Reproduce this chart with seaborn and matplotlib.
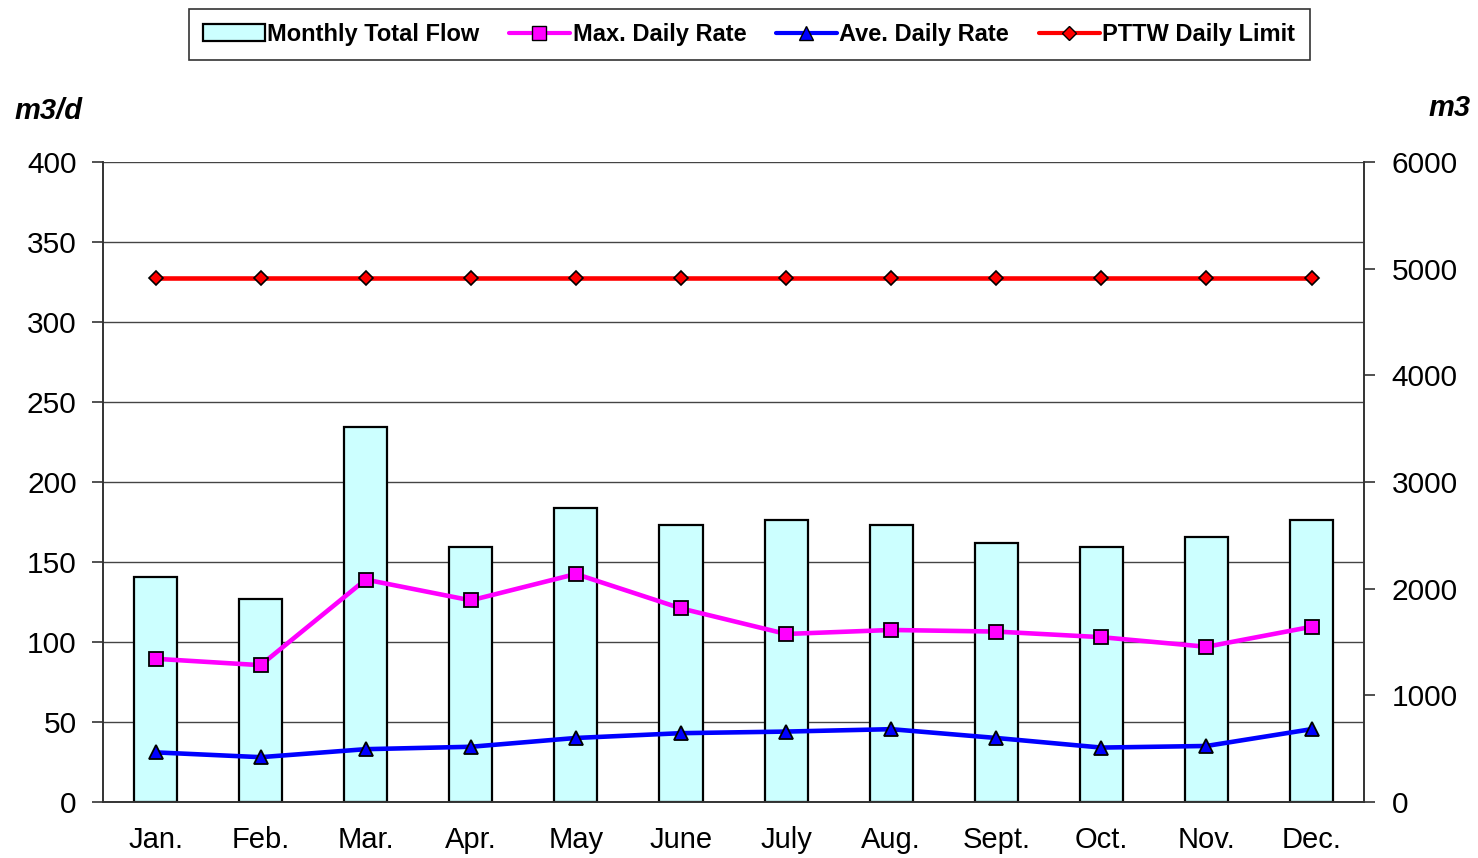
import numpy as np
import matplotlib
matplotlib.use("Agg")
import matplotlib.pyplot as plt
import seaborn as sns
from matplotlib.patches import Patch
from matplotlib.lines import Line2D

months = ["Jan.", "Feb.", "Mar.", "Apr.", "May", "June", "July", "Aug.", "Sept.", "Oct.", "Nov.", "Dec."]
total_flow = [2110, 1900, 3515, 2390, 2755, 2600, 2645, 2600, 2430, 2390, 2485, 2645]   # m3, right axis
max_daily = [89.5, 85.5, 139, 126, 142.5, 121, 105, 107.5, 106.5, 103, 97, 109.5]      # m3/d
ave_daily = [31, 28, 33, 34.5, 40, 43, 44, 45.5, 40, 34, 35, 45.5]
pttw_limit = [327.5] * 12

sns.set_style("white")
plt.rcParams["font.family"] = ["Liberation Sans", "DejaVu Sans"]
plt.rcParams["text.color"] = "black"
plt.rcParams["xtick.color"] = "black"
plt.rcParams["ytick.color"] = "black"

fig = plt.figure(figsize=(14.78, 8.58), dpi=100)
ax = fig.add_axes([0.0697, 0.0653, 0.8532, 0.7459])
ax2 = ax.twinx()
ax.set_zorder(ax2.get_zorder() + 1)
ax.patch.set_visible(False)

# bars on the m3 axis
sns.barplot(x=months, y=total_flow, ax=ax2, color="#CCFFFF", saturation=1,
            width=0.41, edgecolor="black", linewidth=1.6)

x = np.arange(len(months))
sns.lineplot(x=x, y=max_daily, ax=ax, color="#FF00FF", linewidth=3.3, marker="s",
             markersize=10, markerfacecolor="#FF00FF", markeredgecolor="black",
             markeredgewidth=1.3, legend=False)
sns.lineplot(x=x, y=ave_daily, ax=ax, color="#0000FF", linewidth=3.3, marker="^",
             markersize=10, markerfacecolor="#0000FF", markeredgecolor="black",
             markeredgewidth=1.3, legend=False)
sns.lineplot(x=x, y=pttw_limit, ax=ax, color="#FF0000", linewidth=3.3, marker="D",
             markersize=7, markerfacecolor="#FF0000", markeredgecolor="black",
             markeredgewidth=1.2, legend=False)

ax.set_ylim(0, 400)
ax2.set_ylim(0, 6000)
ax.set_xlim(-0.5, 11.5)
ax2.set_xlim(-0.5, 11.5)
ax.set_ylabel("")
ax2.set_ylabel("")

# grid at every 50 m3/d, drawn behind the bars
ax2.set_yticks(np.arange(0, 6001, 1000))
ax2.set_yticks(np.arange(0, 6001, 750), minor=True)
ax2.yaxis.remove_overlapping_locs = False
ax2.grid(which="minor", axis="y", color="#444444", linewidth=1)
ax2.grid(which="major", visible=False)
ax2.set_axisbelow(True)
ax2.tick_params(axis="y", which="minor", length=0)

ax.set_yticks(np.arange(0, 401, 50))
ax.grid(False)

# x ticks at category boundaries, labels in between
ax.set_xticks(np.arange(-0.5, 12, 1))
ax.set_xticklabels([])
ax.set_xticks(x, minor=True)
ax.set_xticklabels(months, minor=True)
ax.tick_params(axis="x", which="major", length=8, width=1.2, direction="out", color="#333333")
ax.tick_params(axis="x", which="minor", length=0, pad=17, labelsize=21)
ax2.tick_params(axis="x", which="both", length=0, labelbottom=False)
ax2.set_xticklabels([])

ax.tick_params(axis="y", length=8, width=1.2, direction="out", pad=11, labelsize=21.5, color="#333333")
ax2.tick_params(axis="y", which="major", length=8, width=1.2, direction="out", pad=12,
                labelsize=21.5, color="#333333")

for a in (ax, ax2):
    a.spines["top"].set_visible(False)
    for s in ("left", "right", "bottom"):
        a.spines[s].set_color("#333333")
        a.spines[s].set_linewidth(1.2)

fig.text(0.010, 1 - 111 / 858, "m3/d", fontsize=21, fontweight="bold", fontstyle="italic",
         va="center", ha="left")
fig.text(0.995, 1 - 108 / 858, "m3", fontsize=21, fontweight="bold", fontstyle="italic",
         va="center", ha="right")

handles = [
    Patch(facecolor="#CCFFFF", edgecolor="black", linewidth=1.6, label="Monthly Total Flow"),
    Line2D([], [], color="#FF00FF", linewidth=3, marker="s", markersize=10,
           markerfacecolor="#FF00FF", markeredgecolor="black", label="Max. Daily Rate"),
    Line2D([], [], color="#0000FF", linewidth=3, marker="^", markersize=10,
           markerfacecolor="#0000FF", markeredgecolor="black", label="Ave. Daily Rate"),
    Line2D([], [], color="#FF0000", linewidth=3, marker="D", markersize=7,
           markerfacecolor="#FF0000", markeredgecolor="black", label="PTTW Daily Limit"),
]
leg = fig.legend(handles=handles, loc="center", bbox_to_anchor=(0.507, 0.960), ncol=4,
                 fancybox=False, frameon=True, edgecolor="black", handlelength=2.6,
                 handletextpad=0.1, columnspacing=1.25, borderpad=0.6,
                 prop={"size": 17, "weight": "bold"})
leg.get_frame().set_linewidth(1.2)

fig.savefig("out.png", dpi=100)
